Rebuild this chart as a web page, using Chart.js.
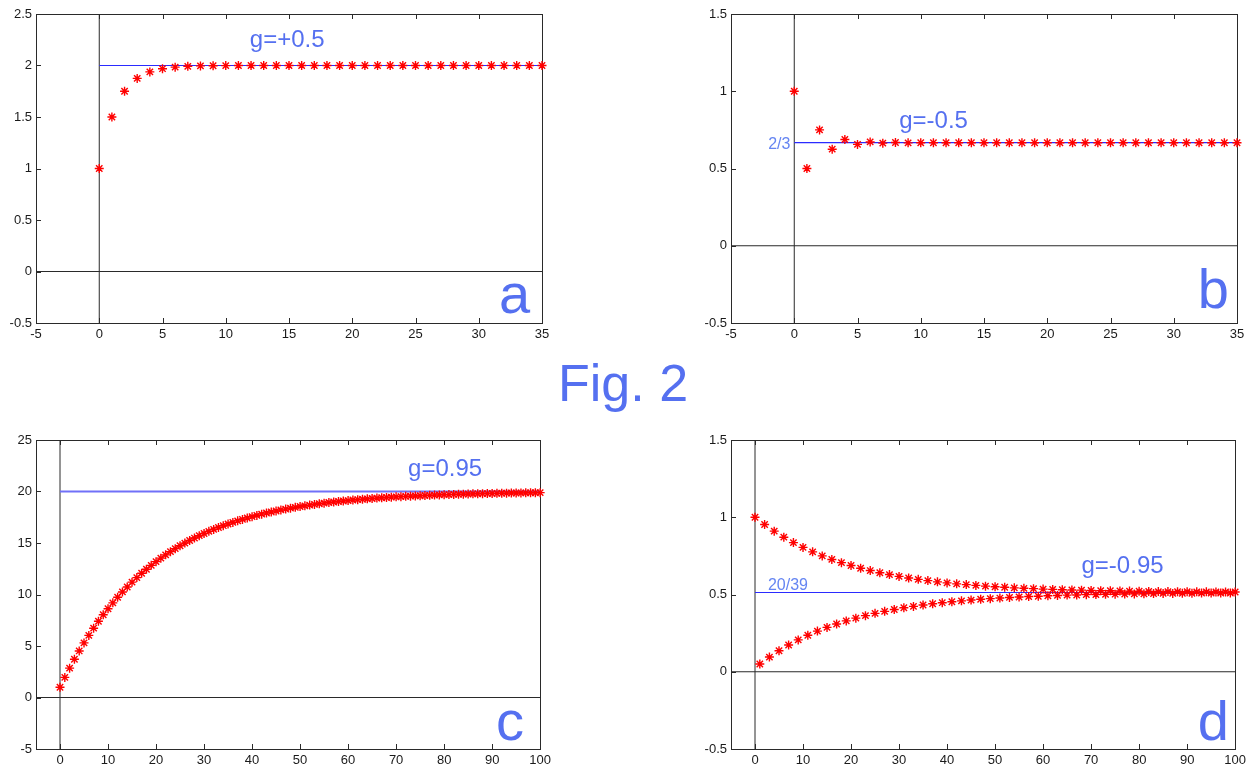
<!DOCTYPE html>
<html>
<head>
<meta charset="utf-8">
<script src="https://cdn.jsdelivr.net/npm/chart.js@4.4.1/dist/chart.umd.min.js"></script>
<style>
body { margin: 0; width: 1253px; height: 769px; overflow: hidden; background: #fff; font-family: 'Liberation Sans', Arial, sans-serif; }
.panel { position: absolute; width: 555px; height: 345px; }
#titulo { position: absolute; left: 558px; top: 357px; font-size: 52px; line-height: 52px; color: #5570f0; white-space: nowrap; }
</style>
</head>
<body>
<div class="panel" style="left:0;top:0"><canvas id="chartA"></canvas></div>
<div class="panel" style="left:695px;top:0"><canvas id="chartB"></canvas></div>
<div class="panel" style="left:0;top:426px"><canvas id="chartC"></canvas></div>
<div class="panel" style="left:695px;top:426px"><canvas id="chartD"></canvas></div>
<div id="titulo">Fig. 2</div>
<script>
// sumas parciales (n = 0, 1, 2, ...)
const serieA = [1, 1.5, 1.75, 1.875, 1.938, 1.969, 1.984, 1.992, 1.996, 1.998, 1.999,
    2, 2, 2, 2, 2, 2, 2, 2, 2, 2, 2, 2, 2, 2, 2, 2, 2, 2, 2, 2, 2, 2, 2, 2, 2];
const serieB = [1, 0.5, 0.75, 0.625, 0.688, 0.656, 0.672, 0.664, 0.668, 0.666, 0.667,
    0.667, 0.667, 0.667, 0.667, 0.667, 0.667, 0.667, 0.667, 0.667, 0.667, 0.667, 0.667, 0.667,
    0.667, 0.667, 0.667, 0.667, 0.667, 0.667, 0.667, 0.667, 0.667, 0.667, 0.667, 0.667];
const serieC = [
    1.00, 1.95, 2.85, 3.71, 4.52, 5.30, 6.03, 6.73, 7.40, 8.03,
    8.62, 9.19, 9.73, 10.25, 10.73, 11.20, 11.64, 12.06, 12.45, 12.83,
    13.19, 13.53, 13.85, 14.16, 14.45, 14.73, 14.99, 15.24, 15.48, 15.71,
    15.92, 16.13, 16.32, 16.50, 16.68, 16.84, 17.00, 17.15, 17.29, 17.43,
    17.56, 17.68, 17.80, 17.91, 18.01, 18.11, 18.21, 18.29, 18.38, 18.46,
    18.54, 18.61, 18.68, 18.75, 18.81, 18.87, 18.93, 18.98, 19.03, 19.08,
    19.12, 19.17, 19.21, 19.25, 19.29, 19.32, 19.36, 19.39, 19.42, 19.45,
    19.48, 19.50, 19.53, 19.55, 19.57, 19.59, 19.61, 19.63, 19.65, 19.67,
    19.69, 19.70, 19.72, 19.73, 19.74, 19.76, 19.77, 19.78, 19.79, 19.80,
    19.81, 19.82, 19.83, 19.84, 19.85, 19.85, 19.86, 19.87, 19.88, 19.88,
    19.89];
const serieD = [
    1.000, 0.050, 0.953, 0.095, 0.910, 0.136, 0.871, 0.173, 0.836, 0.206,
    0.805, 0.236, 0.776, 0.263, 0.750, 0.287, 0.727, 0.309, 0.706, 0.329,
    0.688, 0.347, 0.670, 0.363, 0.655, 0.378, 0.641, 0.391, 0.629, 0.403,
    0.617, 0.414, 0.607, 0.423, 0.598, 0.432, 0.590, 0.440, 0.582, 0.447,
    0.575, 0.453, 0.569, 0.459, 0.564, 0.464, 0.559, 0.469, 0.554, 0.473,
    0.550, 0.477, 0.547, 0.481, 0.543, 0.484, 0.540, 0.487, 0.538, 0.489,
    0.535, 0.492, 0.533, 0.494, 0.531, 0.496, 0.529, 0.497, 0.528, 0.499,
    0.526, 0.500, 0.525, 0.501, 0.524, 0.502, 0.523, 0.503, 0.522, 0.504,
    0.521, 0.505, 0.520, 0.506, 0.519, 0.507, 0.519, 0.507, 0.518, 0.508,
    0.518, 0.508, 0.517, 0.509, 0.517, 0.509, 0.516, 0.510, 0.516, 0.510,
    0.516];

// limites de cada serie
const limiteA = 2, limiteB = 0.667, limiteC = 20, limiteD = 0.513;

// marcas de los ejes
const ticksX35 = [-5, 0, 5, 10, 15, 20, 25, 30, 35];
const ticksX100 = [0, 10, 20, 30, 40, 50, 60, 70, 80, 90, 100];
const ticksYA = [-0.5, 0, 0.5, 1, 1.5, 2, 2.5];
const ticksYB = [-0.5, 0, 0.5, 1, 1.5];
const ticksYC = [-5, 0, 5, 10, 15, 20, 25];

// textos
const textosA = ['g=+0.5', 'a'];
const textosB = ['g=-0.5', '2/3', 'b'];
const textosC = ['g=0.95', 'c'];
const textosD = ['g=-0.95', '20/39', 'd'];

const AZUL_TEXTO = '#5570f0';
const FUENTE = '"Liberation Sans", Arial, sans-serif';

// marco con marcas hacia adentro, como en matlab
const marco = {
    id: 'marco',
    beforeDatasetsDraw(chart) {
        const { ctx, chartArea: a, scales } = chart;
        ctx.save();
        ctx.strokeStyle = '#2a2a2a';
        ctx.lineWidth = 1;
        ctx.strokeRect(Math.round(a.left) + 0.5, Math.round(a.top) + 0.5,
            Math.round(a.right - a.left), Math.round(a.bottom - a.top));
        ctx.beginPath();
        scales.x.ticks.forEach(t => {
            const px = Math.round(scales.x.getPixelForValue(t.value)) + 0.5;
            if (px < a.left + 2 || px > a.right - 2) return;
            ctx.moveTo(px, a.top); ctx.lineTo(px, a.top + 5);
            ctx.moveTo(px, a.bottom); ctx.lineTo(px, a.bottom - 5);
        });
        scales.y.ticks.forEach(t => {
            const py = Math.round(scales.y.getPixelForValue(t.value)) + 0.5;
            if (py < a.top + 2 || py > a.bottom - 2) return;
            ctx.moveTo(a.left, py); ctx.lineTo(a.left + 5, py);
        });
        ctx.stroke();
        ctx.restore();
    },
    afterDatasetsDraw(chart) {
        const notas = chart.options.plugins.marco.notas || [];
        const { ctx, scales } = chart;
        ctx.save();
        notas.forEach(n => {
            ctx.font = n.size + 'px ' + FUENTE;
            ctx.fillStyle = n.color || AZUL_TEXTO;
            ctx.textAlign = n.align || 'left';
            ctx.textBaseline = 'alphabetic';
            ctx.fillText(n.text, scales.x.getPixelForValue(n.x), scales.y.getPixelForValue(n.y));
        });
        ctx.restore();
    }
};

function crearPanel(id, serie, limite, xMin, xMax, ticksX, ticksY, colorLimite, anchoLimite, notas) {
    const yMin = ticksY[0], yMax = ticksY[ticksY.length - 1];
    const escala = (ticks, tam, esX) => ({
        type: 'linear',
        min: esX ? xMin : yMin,
        max: esX ? xMax : yMax,
        afterBuildTicks: s => { s.ticks = ticks.map(v => ({ value: v })); },
        afterFit: s => { if (esX) s.height = tam; else s.width = tam; },
        grid: { display: false, drawTicks: false },
        border: { display: false },
        ticks: {
            autoSkip: false, maxRotation: 0, padding: esX ? 4 : 4, color: '#1a1a1a',
            font: { family: FUENTE, size: 13 },
            callback: v => String(v)
        }
    });

    return new Chart(document.getElementById(id), {
        type: 'scatter',
        data: {
            datasets: [
                {
                    data: serie.map((y, n) => ({ x: n, y })),
                    pointStyle: 'star', pointRadius: 4.5, pointHoverRadius: 4.5,
                    borderColor: '#ff0000', backgroundColor: '#ff0000', borderWidth: 1.4,
                    showLine: false, clip: false
                },
                {
                    data: [{ x: 0, y: limite }, { x: xMax, y: limite }],
                    showLine: true, borderColor: colorLimite, borderWidth: anchoLimite, pointRadius: 0
                },
                {
                    data: [{ x: xMin, y: 0 }, { x: xMax, y: 0 }],
                    showLine: true, borderColor: '#2a2a2a', borderWidth: 1, pointRadius: 0
                },
                {
                    data: [{ x: 0, y: yMin }, { x: 0, y: yMax }],
                    showLine: true, borderColor: '#2a2a2a', borderWidth: 1, pointRadius: 0
                }
            ]
        },
        options: {
            responsive: true,
            maintainAspectRatio: false,
            animation: false,
            layout: { padding: { top: 14, right: 13, left: 0, bottom: 0 } },
            plugins: { legend: { display: false }, tooltip: { enabled: false }, marco: { notas } },
            scales: { x: escala(ticksX, 22, true), y: escala(ticksY, 36, false) }
        },
        plugins: [marco]
    });
}

crearPanel('chartA', serieA, limiteA, -5, 35, ticksX35, ticksYA, '#2b2bff', 1.2, [
    { text: textosA[0], x: 11.9, y: 2.18, size: 24 },
    { text: textosA[1], x: 31.6, y: -0.40, size: 56 }
]);
crearPanel('chartB', serieB, limiteB, -5, 35, ticksX35, ticksYB, '#2b2bff', 1.2, [
    { text: textosB[0], x: 8.3, y: 0.76, size: 24 },
    { text: textosB[1], x: -0.3, y: 0.626, size: 16, align: 'right', color: '#6585f2' },
    { text: textosB[2], x: 31.9, y: -0.40, size: 56 }
]);
crearPanel('chartC', serieC, limiteC, -5, 100, ticksX100, ticksYC, '#7070f8', 2, [
    { text: textosC[0], x: 72.5, y: 21.5, size: 24 },
    { text: textosC[1], x: 90.8, y: -4.1, size: 56 }
]);
crearPanel('chartD', serieD, limiteD, -5, 100, ticksX100, ticksYB, '#2b2bff', 1.2, [
    { text: textosD[0], x: 68.0, y: 0.636, size: 24 },
    { text: textosD[1], x: 2.7, y: 0.532, size: 16, color: '#6585f2' },
    { text: textosD[2], x: 92.2, y: -0.44, size: 56 }
]);
</script>
</body>
</html>
